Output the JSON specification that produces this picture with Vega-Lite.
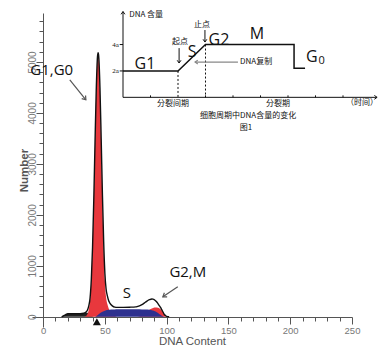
{
"$schema": "https://vega.github.io/schema/vega-lite/v6.json",
"width": 320, "height": 314,
"autosize": {"type": "none"},
"padding": {"left": 32, "top": 13, "right": 39, "bottom": 32},
"background": "white",
"config": {"view": {"stroke": null}, "axis": {"labelFont": "Liberation Sans", "titleFont": "Liberation Sans"}},
"datasets": {
 "hist": [
  {"x":15,"debris":0,"g1":0,"s":0,"g2":0,"total":0},
  {"x":18,"debris":40,"g1":0,"s":0,"g2":0,"total":40},
  {"x":20,"debris":60,"g1":0,"s":0,"g2":0,"total":60},
  {"x":25,"debris":60,"g1":0,"s":0,"g2":0,"total":60},
  {"x":30,"debris":60,"g1":0,"s":0,"g2":0,"total":60},
  {"x":33,"debris":70,"g1":0,"s":0,"g2":0,"total":70},
  {"x":35,"debris":80,"g1":20,"s":0,"g2":0,"total":100},
  {"x":36,"debris":80,"g1":60,"s":0,"g2":0,"total":140},
  {"x":37,"debris":70,"g1":150,"s":0,"g2":0,"total":220},
  {"x":38,"debris":50,"g1":320,"s":0,"g2":0,"total":370},
  {"x":39,"debris":30,"g1":700,"s":0,"g2":0,"total":730},
  {"x":40,"debris":10,"g1":1350,"s":0,"g2":0,"total":1360},
  {"x":41,"debris":0,"g1":2280,"s":0,"g2":0,"total":2290},
  {"x":42,"debris":0,"g1":3400,"s":0,"g2":0,"total":3410},
  {"x":43,"debris":0,"g1":4430,"s":10,"g2":0,"total":4450},
  {"x":44,"debris":0,"g1":5060,"s":30,"g2":0,"total":5100},
  {"x":44.5,"debris":0,"g1":5140,"s":40,"g2":0,"total":5180},
  {"x":45,"debris":0,"g1":5060,"s":50,"g2":0,"total":5110},
  {"x":46,"debris":0,"g1":4430,"s":70,"g2":0,"total":4500},
  {"x":47,"debris":0,"g1":3400,"s":85,"g2":0,"total":3490},
  {"x":48,"debris":0,"g1":2280,"s":100,"g2":0,"total":2400},
  {"x":49,"debris":0,"g1":1350,"s":110,"g2":0,"total":1480},
  {"x":50,"debris":0,"g1":700,"s":120,"g2":0,"total":850},
  {"x":51,"debris":0,"g1":380,"s":128,"g2":0,"total":540},
  {"x":52,"debris":0,"g1":250,"s":133,"g2":0,"total":410},
  {"x":53,"debris":0,"g1":170,"s":137,"g2":0,"total":320},
  {"x":54,"debris":0,"g1":120,"s":140,"g2":0,"total":270},
  {"x":56,"debris":0,"g1":60,"s":143,"g2":0,"total":215},
  {"x":58,"debris":0,"g1":20,"s":145,"g2":0,"total":190},
  {"x":60,"debris":0,"g1":0,"s":147,"g2":0,"total":185},
  {"x":65,"debris":0,"g1":0,"s":150,"g2":0,"total":185},
  {"x":70,"debris":0,"g1":0,"s":150,"g2":0,"total":188},
  {"x":75,"debris":0,"g1":0,"s":148,"g2":0,"total":195},
  {"x":76,"debris":0,"g1":0,"s":148,"g2":0,"total":200},
  {"x":80,"debris":0,"g1":0,"s":145,"g2":40,"total":240},
  {"x":83,"debris":0,"g1":0,"s":142,"g2":95,"total":290},
  {"x":86,"debris":0,"g1":0,"s":138,"g2":140,"total":335},
  {"x":88,"debris":0,"g1":0,"s":130,"g2":165,"total":350},
  {"x":89,"debris":0,"g1":0,"s":124,"g2":175,"total":348},
  {"x":90,"debris":0,"g1":0,"s":115,"g2":182,"total":335},
  {"x":92,"debris":0,"g1":0,"s":90,"g2":185,"total":290},
  {"x":94,"debris":0,"g1":0,"s":55,"g2":170,"total":220},
  {"x":95,"debris":0,"g1":0,"s":38,"g2":150,"total":185},
  {"x":96,"debris":0,"g1":0,"s":22,"g2":125,"total":140},
  {"x":97,"debris":0,"g1":0,"s":10,"g2":95,"total":95},
  {"x":98,"debris":0,"g1":0,"s":0,"g2":55,"total":50},
  {"x":99,"debris":0,"g1":0,"s":0,"g2":20,"total":25},
  {"x":100,"debris":0,"g1":0,"s":0,"g2":0,"total":10},
  {"x":102,"debris":0,"g1":0,"s":0,"g2":0,"total":0}
 ],
 "main_labels": [
  {"x":7,"y":4846,"label":"G1,G0"},
  {"x":67.7,"y":471,"label":"S"},
  {"x":117.1,"y":883,"label":"G2,M"}
 ],
 "main_arrows": [
  {"name":"g1","x":21.6,"y":4650,"x2":34.6,"y2":4257},
  {"name":"g2","x":109,"y":589,"x2":96.9,"y2":392}
 ],
 "marker": [{"x":43.5,"y":-98}],
 "inset_axes": [{"t":0,"v":0,"t2":0,"v2":6.5},{"t":0,"v":0,"t2":9.24,"v2":0}],
 "inset_curve": [
  {"step":1,"t":0,"v":2},{"step":2,"t":2,"v":2},{"step":3,"t":3,"v":4},
  {"step":4,"t":6.22,"v":4},{"step":5,"t":6.22,"v":2.2},{"step":6,"t":6.62,"v":2.2}
 ],
 "inset_dash": [{"t":2,"v":2,"v2":0},{"t":3,"v":4,"v2":0}],
 "inset_yticks": [{"v":2,"label":"2a"},{"v":4,"label":"4a"}],
 "inset_xticks": [{"t":1},{"t":3},{"t":4},{"t":5},{"t":6},{"t":7},{"t":8}],
 "inset_phases": [
  {"t":0.8,"v":2.52,"label":"G1"},{"t":2.51,"v":3.43,"label":"S"},
  {"t":3.49,"v":4.34,"label":"G2"},{"t":4.87,"v":4.8,"label":"M"},
  {"t":6.87,"v":3.05,"label":"G"}
 ],
 "inset_sub": [{"t":7.22,"v":2.72,"label":"0"}],
 "inset_notes": [
  {"t":2.07,"v":4.19,"label":"起点"},
  {"t":2.87,"v":5.48,"label":"止点"},
  {"t":4.84,"v":2.67,"label":"DNA复制"},
  {"t":0.84,"v":6.23,"label":"DNA 含量"},
  {"t":1.82,"v":-0.51,"label":"分裂间期"},
  {"t":5.64,"v":-0.51,"label":"分裂期"},
  {"t":8.69,"v":-0.45,"label":"（时间）"},
  {"t":4.55,"v":-1.45,"label":"细胞周期中DNA含量的变化"},
  {"t":4.47,"v":-2.3,"label":"图1"}
 ],
 "inset_arrows": [
  {"name":"start","t":2.04,"v":3.73,"t2":2.04,"v2":2.6},
  {"name":"stop","t":2.98,"v":5.1,"t2":2.98,"v2":4.19},
  {"name":"rep","t":4.18,"v":2.67,"t2":2.62,"v2":2.67}
 ]
},
"layer": [
 {
  "encoding": {
   "x": {"field": "x", "type": "quantitative",
    "scale": {"domain": [-9, 250], "nice": false, "zero": false},
    "axis": {"values": [0,10,20,30,40,50,60,70,80,90,100,110,120,130,140,150,160,170,180,190,200,210,220,230,240,250],
      "labelExpr": "datum.value % 50 === 0 ? datum.label : ''",
      "title": "DNA Content", "offset": -10, "grid": false,
      "domainColor": "#555", "tickColor": "#555",
      "tickSize": {"condition": {"test": "datum.value % 50 === 0", "value": 7}, "value": 4},
      "labelColor": "#777", "labelFontSize": 9.5, "labelPadding": 1, "labelOverlap": false, "labelFlush": false, "labelBound": false,
      "titleColor": "#555", "titleFontSize": 11.5, "titleFontWeight": "normal", "titlePadding": 1}},
   "y": {"field": "y", "type": "quantitative", "stack": null,
    "scale": {"domain": [-200, 5960], "nice": false, "zero": false},
    "axis": {"values": [0,200,400,600,800,1000,1200,1400,1600,1800,2000,2200,2400,2600,2800,3000,3200,3400,3600,3800,4000,4200,4400,4600,4800,5000,5200,5400,5600,5800],
      "labelExpr": "datum.value % 1000 === 0 ? datum.label : ''", "format": "d",
      "title": "Number", "offset": -11, "grid": false, "labelAngle": 270, "orient": "left",
      "domainColor": "#555", "tickColor": "#555",
      "tickSize": {"condition": {"test": "datum.value % 1000 === 0", "value": 7}, "value": 4},
      "labelColor": "#777", "labelFontSize": 10, "labelPadding": -1, "labelOverlap": false, "labelFlush": false, "labelBound": false,
      "titleColor": "#555", "titleFontSize": 11.5, "titleFontWeight": "bold", "titlePadding": -2}}
  },
  "layer": [
   {"data": {"name": "hist"}, "transform": [{"fold": ["g2"], "as": ["series", "y"]}],
    "mark": {"type": "area", "color": "#e8383d", "interpolate": "monotone"}},
   {"data": {"name": "hist"}, "transform": [{"fold": ["debris"], "as": ["series", "y"]}],
    "mark": {"type": "area", "color": "#222", "interpolate": "monotone"}},
   {"data": {"name": "hist"}, "transform": [{"fold": ["g1"], "as": ["series", "y"]}],
    "mark": {"type": "area", "color": "#e8383d", "interpolate": "monotone"}},
   {"data": {"name": "hist"}, "transform": [{"fold": ["s"], "as": ["series", "y"]}],
    "mark": {"type": "area", "color": "#2e318f", "interpolate": "monotone"}},
   {"data": {"name": "hist"}, "transform": [{"fold": ["total"], "as": ["series", "y"]}],
    "mark": {"type": "line", "color": "#111", "strokeWidth": 1.4, "interpolate": "monotone"}},
   {"data": {"name": "marker"}, "mark": {"type": "point", "shape": "triangle-up", "filled": true, "color": "#111", "size": 64, "opacity": 1}},
   {"data": {"name": "main_labels"}, "mark": {"type": "text", "font": "Open Sans", "fontSize": 15, "color": "#111", "align": "center", "baseline": "middle"},
    "encoding": {"text": {"field": "label"}}},
   {"data": {"name": "main_arrows"}, "mark": {"type": "rule", "color": "#555", "strokeWidth": 1.2},
    "encoding": {"x2": {"field": "x2"}, "y2": {"field": "y2"}}},
   {"data": {"name": "main_arrows"},
    "transform": [{"filter": "datum.name === 'g1'"}, {"fold": ["x2"], "as": ["kx", "x"]}, {"fold": ["y2"], "as": ["ky", "y"]}],
    "mark": {"type": "point", "shape": "M-0.7,1L0,0L0.7,1", "filled": false, "color": "#555", "strokeWidth": 1.2, "size": 50, "angle": 141, "opacity": 1}},
   {"data": {"name": "main_arrows"},
    "transform": [{"filter": "datum.name === 'g2'"}, {"fold": ["x2"], "as": ["kx", "x"]}, {"fold": ["y2"], "as": ["ky", "y"]}],
    "mark": {"type": "point", "shape": "M-0.7,1L0,0L0.7,1", "filled": false, "color": "#555", "strokeWidth": 1.2, "size": 50, "angle": 236, "opacity": 1}}
  ]
 },
 {
  "layer": [
   {"data": {"name": "inset_axes"}, "mark": {"type": "rule", "color": "#111", "strokeWidth": 1},
    "encoding": {"x": {"field": "t", "type": "quantitative", "scale": {"domain": [-3.309, 8.327], "nice": false, "zero": false}, "axis": null},
     "y": {"field": "v", "type": "quantitative", "scale": {"domain": [-17.4, 6.39], "nice": false, "zero": false}, "axis": null},
     "x2": {"field": "t2"}, "y2": {"field": "v2"}}},
   {"data": {"name": "inset_axes"}, "transform": [{"filter": "datum.t2 === 0"}],
    "mark": {"type": "point", "shape": "M-0.7,1L0,0L0.7,1", "filled": false, "color": "#111", "strokeWidth": 1, "size": 30, "angle": 0, "opacity": 1},
    "encoding": {"x": {"field": "t2", "type": "quantitative", "scale": {"domain": [-3.309, 8.327], "nice": false, "zero": false}, "axis": null},
     "y": {"field": "v2", "type": "quantitative", "scale": {"domain": [-17.4, 6.39], "nice": false, "zero": false}, "axis": null}}},
   {"data": {"name": "inset_axes"}, "transform": [{"filter": "datum.t2 > 0"}],
    "mark": {"type": "point", "shape": "M-0.7,1L0,0L0.7,1", "filled": false, "color": "#111", "strokeWidth": 1, "size": 30, "angle": 90, "opacity": 1},
    "encoding": {"x": {"field": "t2", "type": "quantitative", "scale": {"domain": [-3.309, 8.327], "nice": false, "zero": false}, "axis": null},
     "y": {"field": "v2", "type": "quantitative", "scale": {"domain": [-17.4, 6.39], "nice": false, "zero": false}, "axis": null}}},
   {"data": {"name": "inset_yticks"}, "mark": {"type": "rule", "color": "#111", "strokeWidth": 1},
    "encoding": {"x": {"datum": -0.12, "type": "quantitative", "scale": {"domain": [-3.309, 8.327], "nice": false, "zero": false}, "axis": null},
     "x2": {"datum": 0},
     "y": {"field": "v", "type": "quantitative", "scale": {"domain": [-17.4, 6.39], "nice": false, "zero": false}, "axis": null}}},
   {"data": {"name": "inset_yticks"}, "mark": {"type": "text", "font": "Liberation Serif", "fontSize": 7, "color": "#111", "align": "right", "baseline": "middle"},
    "encoding": {"x": {"datum": -0.15, "type": "quantitative", "scale": {"domain": [-3.309, 8.327], "nice": false, "zero": false}, "axis": null},
     "y": {"field": "v", "type": "quantitative", "scale": {"domain": [-17.4, 6.39], "nice": false, "zero": false}, "axis": null},
     "text": {"field": "label"}}},
   {"data": {"name": "inset_xticks"}, "mark": {"type": "rule", "color": "#111", "strokeWidth": 1},
    "encoding": {"x": {"field": "t", "type": "quantitative", "scale": {"domain": [-3.309, 8.327], "nice": false, "zero": false}, "axis": null},
     "y": {"datum": 0, "type": "quantitative", "scale": {"domain": [-17.4, 6.39], "nice": false, "zero": false}, "axis": null},
     "y2": {"datum": 0.15}}},
   {"data": {"name": "inset_dash"}, "mark": {"type": "rule", "color": "#111", "strokeWidth": 1, "strokeDash": [2, 2]},
    "encoding": {"x": {"field": "t", "type": "quantitative", "scale": {"domain": [-3.309, 8.327], "nice": false, "zero": false}, "axis": null},
     "y": {"field": "v", "type": "quantitative", "scale": {"domain": [-17.4, 6.39], "nice": false, "zero": false}, "axis": null},
     "y2": {"field": "v2"}}},
   {"data": {"name": "inset_curve"}, "mark": {"type": "line", "color": "#111", "strokeWidth": 1.5},
    "encoding": {"x": {"field": "t", "type": "quantitative", "scale": {"domain": [-3.309, 8.327], "nice": false, "zero": false}, "axis": null},
     "y": {"field": "v", "type": "quantitative", "scale": {"domain": [-17.4, 6.39], "nice": false, "zero": false}, "axis": null},
     "order": {"field": "step"}}},
   {"data": {"name": "inset_arrows"}, "transform": [{"filter": "datum.name !== 'rep'"}], "mark": {"type": "rule", "color": "#111", "strokeWidth": 1},
    "encoding": {"x": {"field": "t", "type": "quantitative", "scale": {"domain": [-3.309, 8.327], "nice": false, "zero": false}, "axis": null},
     "y": {"field": "v", "type": "quantitative", "scale": {"domain": [-17.4, 6.39], "nice": false, "zero": false}, "axis": null},
     "x2": {"field": "t2"}, "y2": {"field": "v2"}}},
   {"data": {"name": "inset_arrows"}, "transform": [{"filter": "datum.name !== 'rep'"}],
    "mark": {"type": "point", "shape": "M-0.7,1L0,0L0.7,1", "filled": false, "color": "#111", "strokeWidth": 1, "size": 30, "angle": 180, "opacity": 1},
    "encoding": {"x": {"field": "t2", "type": "quantitative", "scale": {"domain": [-3.309, 8.327], "nice": false, "zero": false}, "axis": null},
     "y": {"field": "v2", "type": "quantitative", "scale": {"domain": [-17.4, 6.39], "nice": false, "zero": false}, "axis": null}}},
   {"data": {"name": "inset_arrows"}, "transform": [{"filter": "datum.name === 'rep'"}], "mark": {"type": "rule", "color": "#888", "strokeWidth": 1.2},
    "encoding": {"x": {"field": "t", "type": "quantitative", "scale": {"domain": [-3.309, 8.327], "nice": false, "zero": false}, "axis": null},
     "y": {"field": "v", "type": "quantitative", "scale": {"domain": [-17.4, 6.39], "nice": false, "zero": false}, "axis": null},
     "x2": {"field": "t2"}, "y2": {"field": "v2"}}},
   {"data": {"name": "inset_arrows"}, "transform": [{"filter": "datum.name === 'rep'"}],
    "mark": {"type": "point", "shape": "M-0.7,1L0,0L0.7,1", "filled": false, "color": "#888", "strokeWidth": 1.2, "size": 30, "angle": 270, "opacity": 1},
    "encoding": {"x": {"field": "t2", "type": "quantitative", "scale": {"domain": [-3.309, 8.327], "nice": false, "zero": false}, "axis": null},
     "y": {"field": "v2", "type": "quantitative", "scale": {"domain": [-17.4, 6.39], "nice": false, "zero": false}, "axis": null}}},
   {"data": {"name": "inset_phases"}, "mark": {"type": "text", "font": "Open Sans", "fontSize": 16, "color": "#111", "align": "center", "baseline": "middle"},
    "encoding": {"x": {"field": "t", "type": "quantitative", "scale": {"domain": [-3.309, 8.327], "nice": false, "zero": false}, "axis": null},
     "y": {"field": "v", "type": "quantitative", "scale": {"domain": [-17.4, 6.39], "nice": false, "zero": false}, "axis": null},
     "text": {"field": "label"}}},
   {"data": {"name": "inset_sub"}, "mark": {"type": "text", "font": "Open Sans", "fontSize": 11, "color": "#111", "align": "center", "baseline": "middle"},
    "encoding": {"x": {"field": "t", "type": "quantitative", "scale": {"domain": [-3.309, 8.327], "nice": false, "zero": false}, "axis": null},
     "y": {"field": "v", "type": "quantitative", "scale": {"domain": [-17.4, 6.39], "nice": false, "zero": false}, "axis": null},
     "text": {"field": "label"}}},
   {"data": {"name": "inset_notes"}, "mark": {"type": "text", "font": "Noto Sans CJK SC", "fontSize": 8, "color": "#111", "align": "center", "baseline": "middle"},
    "encoding": {"x": {"field": "t", "type": "quantitative", "scale": {"domain": [-3.309, 8.327], "nice": false, "zero": false}, "axis": null},
     "y": {"field": "v", "type": "quantitative", "scale": {"domain": [-17.4, 6.39], "nice": false, "zero": false}, "axis": null},
     "text": {"field": "label"}}}
  ]
 }
],
"resolve": {"scale": {"x": "independent", "y": "independent"}, "axis": {"x": "independent", "y": "independent"}}
}
